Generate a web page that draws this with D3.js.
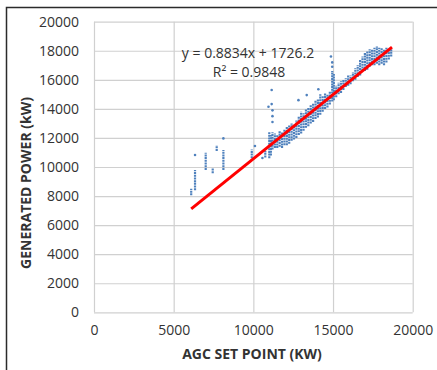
<!DOCTYPE html>
<html>
<head>
<meta charset="utf-8">
<script src="https://cdn.jsdelivr.net/npm/d3@7"></script>
<style>
  body { margin: 0; background: #fff; }
  svg text { font-family: "Open Sans", sans-serif; fill: #333; }
</style>
</head>
<body>
<div id="chart"></div>
<script>
// columns of readings: [set point, lowest generated, highest generated]
const columns = [
  [6100, 8050, 8500], [6340, 8400, 9800], [7010, 9800, 10980], [7450, 9570, 9900],
  [7700, 11100, 11500], [8120, 9800, 11170], [9900, 10600, 11200],
  [10750, 10650, 11100], [11000, 10600, 12400], [11100, 10800, 12200], [11200, 11200, 12400],
  [11350, 11300, 12300], [11500, 11300, 12200], [11650, 11400, 12500], [11800, 11300, 12400],
  [11950, 11500, 12600], [12100, 11500, 12800], [12250, 11600, 12900], [12400, 11800, 13000],
  [12550, 11900, 12900], [12700, 12000, 13200], [12850, 12200, 13500], [13000, 12300, 13800],
  [13150, 12500, 13700], [13300, 12700, 14000], [13450, 12800, 14100], [13600, 13000, 14300],
  [13750, 13100, 14400], [13900, 13300, 14600], [14050, 13400, 14700], [14200, 13600, 15000],
  [14350, 13800, 14900], [14500, 14000, 15100], [14650, 14100, 15000], [14800, 14300, 15200],
  [14950, 14500, 16600], [15050, 14600, 16400], [15200, 14800, 15600], [15350, 15000, 15800],
  [15500, 15100, 15900], [15650, 15300, 16000], [15800, 15500, 16100], [15950, 15600, 16300],
  [16100, 15700, 16300], [16250, 15900, 16500], [16400, 16000, 16800], [16550, 16200, 17000],
  [16700, 16300, 17400], [16850, 16600, 17600], [17000, 16600, 17900], [17150, 16700, 18000],
  [17300, 16900, 18100], [17450, 17000, 18100], [17600, 17000, 18200], [17750, 17100, 18300],
  [17900, 17000, 18200], [18050, 17100, 18200], [18200, 17000, 18100], [18350, 17200, 18200],
  [18500, 17400, 18100], [18650, 17600, 18100]
];
// isolated readings: [set point, generated]
const outliers = [
  [6340, 10830], [8120, 11970], [10100, 11450], [10570, 10620], [10950, 14150],
  [11150, 14330], [11150, 15300], [11200, 13100], [11200, 13500], [11200, 13900],
  [12830, 14600], [13350, 14950], [14080, 15350], [14870, 17600], [14950, 16900], [14950, 17200]
];
const xTicks = [0, 5000, 10000, 15000, 20000];
const yTicks = [0, 2000, 4000, 6000, 8000, 10000, 12000, 14000, 16000, 18000, 20000];
const slope = 0.8834, intercept = 1726.2, rSquared = 0.9848;
const fitRange = [6100, 18700];

const W = 437, H = 370;
const svg = d3.select("#chart").append("svg").attr("width", W).attr("height", H);

// frame (cropped: only top and left show)
svg.append("path").attr("d", `M6.5,${H} V7.5 H${W}`)
  .attr("fill", "none").attr("stroke", "#2b2b2b").attr("stroke-width", 1.5);

const x = d3.scaleLinear().domain([0, 20000]).range([94, 412.7]);
const y = d3.scaleLinear().domain([0, 20000]).range([312.3, 21.7]);

// grid + tick labels
const gy = svg.append("g").attr("transform", `translate(${x(0)},0)`)
  .call(d3.axisLeft(y).tickValues(yTicks).tickFormat(d3.format("d"))
    .tickSize(-(x(20000) - x(0))).tickPadding(15));
const gx = svg.append("g").attr("transform", `translate(0,${y(0)})`)
  .call(d3.axisBottom(x).tickValues(xTicks).tickFormat(d3.format("d"))
    .tickSize(-(y(0) - y(20000))).tickPadding(13));
[gx, gy].forEach(g => {
  g.select(".domain").remove();
  g.selectAll(".tick line").attr("stroke", "#d0d0d0").attr("stroke-width", 1.2);
  g.selectAll(".tick text").style("font-size", "14px").attr("fill", "#333");
});

// scatter columns
svg.append("g").selectAll("line").data(columns).join("line")
  .attr("x1", d => x(d[0])).attr("x2", d => x(d[0]))
  .attr("y1", d => y(d[1])).attr("y2", d => y(d[2]))
  .attr("stroke", "#4f81bd").attr("stroke-width", 2.2)
  .attr("stroke-dasharray", "2 0.7");

svg.append("g").selectAll("circle").data(outliers).join("circle")
  .attr("cx", d => x(d[0])).attr("cy", d => y(d[1])).attr("r", 1.3)
  .attr("fill", "#4f81bd");

// trend line
svg.append("line")
  .attr("x1", x(fitRange[0])).attr("y1", y(slope * fitRange[0] + intercept))
  .attr("x2", x(fitRange[1])).attr("y2", y(slope * fitRange[1] + intercept))
  .attr("stroke", "#ff0000").attr("stroke-width", 3);

// equation
svg.append("text").attr("x", 248).attr("y", 58).attr("text-anchor", "middle")
  .style("font-size", "14px").text(`y = ${slope}x + ${intercept}`);
svg.append("text").attr("x", 249).attr("y", 77).attr("text-anchor", "middle")
  .style("font-size", "14px").text(`R² = ${rSquared}`);

// axis titles
svg.append("text").attr("x", 252).attr("y", 359).attr("text-anchor", "middle")
  .style("font-size", "14px").style("font-weight", "bold").text("AGC SET POINT (KW)");
svg.append("text").attr("transform", "translate(31,183) rotate(-90)").attr("text-anchor", "middle")
  .style("font-size", "14px").style("font-weight", "bold").text("GENERATED POWER (kW)");
</script>
</body>
</html>
